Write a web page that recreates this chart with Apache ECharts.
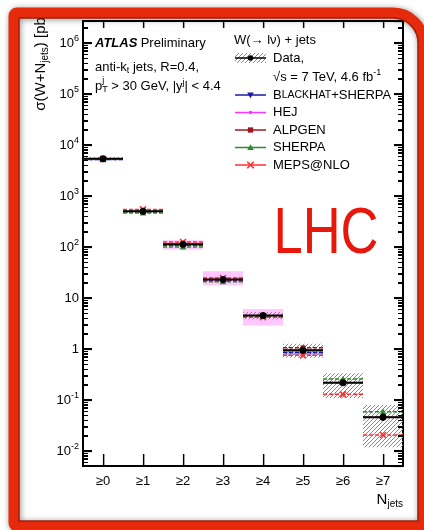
<!DOCTYPE html>
<html><head><meta charset="utf-8">
<script src="https://cdn.jsdelivr.net/npm/echarts@6.0.0/dist/echarts.min.js"></script>
<style>html,body{margin:0;padding:0;background:#fff}#c{width:424px;height:530px}</style>
</head><body><div id="c"></div>
<script>
// ---------------- data ----------------
const categories = ['≥0','≥1','≥2','≥3','≥4','≥5','≥6','≥7'];
const dataValues   = [5400, 505, 113, 23, 4.52, 0.94, 0.218, 0.046];
const dataSystLow  = [5000, 465, 104, 20.5, 3.85, 0.67, 0.108, 0.0118];
const dataSystHigh = [5800, 545, 123, 25.6, 5.3, 1.27, 0.334, 0.080];
const dataStatLow  = [5380, 502, 112, 22.7, 4.45, 0.91, 0.205, 0.039];
const dataStatHigh = [5420, 508, 114, 23.3, 4.60, 0.97, 0.232, 0.054];
const blackhatValues = [5200, 498, 110, 22.6, 4.4, 0.85, null, null];
const blackhatLow    = [5050, null, null, null, null, 0.76, null, null];
const blackhatHigh   = [5350, null, null, null, null, 0.94, null, null];
const hejValues = [null, null, 112, 24.5, 4.2, null, null, null];
const hejLow    = [null, null, 89, 17.7, 2.9, null, null, null];
const hejHigh   = [null, null, 135, 33.4, 6.1, null, null, null];
const alpgenValues = [5300, 495, 110, 22.8, 4.5, 1.06, 0.22, 0.046];
const sherpaValues = [5400, 464, 100, 20.8, 4.4, 0.95, 0.258, 0.059];
const mepsValues   = [5300, 546, 125, 24.7, 4.2, 0.75, 0.129, 0.0206];
const yMin = 0.00508, yMax = 2.7e6;

const FONT = '"Liberation Sans", Arial, Helvetica, sans-serif';
const COL = {bh:'#1a1aa8', hej:'#ff33ff', alp:'#a3141c', sh:'#2a8c2a', meps:'#ff3030'};

// hatch pattern
const hatch = document.createElement('canvas');
hatch.width = 4; hatch.height = 4;
(function(){const g = hatch.getContext('2d'); g.strokeStyle = '#8a8a8a'; g.lineWidth = 1;
 g.beginPath(); g.moveTo(0,4); g.lineTo(4,0); g.moveTo(-1,1); g.lineTo(1,-1); g.moveTo(3,5); g.lineTo(5,3); g.stroke();})();
const hatchFill = {image: hatch, repeat: 'repeat'};

// log-axis tick values (axis decoration): decades major, 2..9 minor
const logTickValues = [];
for (let e = -3; e <= 6; e++) for (let m = 1; m <= 9; m++) {
  const v = m * Math.pow(10, e); if (v >= yMin && v <= yMax) logTickValues.push([v, m === 1]);
}

function marker(sym, x, y, color, r) {
  switch (sym) {
    case 'circle': return {type:'circle', shape:{cx:x, cy:y, r:r}, style:{fill:color}};
    case 'dot': return {type:'circle', shape:{cx:x, cy:y, r:r*0.55}, style:{fill:color}};
    case 'triangle': return {type:'polygon', shape:{points:[[x,y-r],[x+r,y+r*0.75],[x-r,y+r*0.75]]}, style:{fill:color}};
    case 'invtriangle': return {type:'polygon', shape:{points:[[x,y+r],[x+r,y-r*0.75],[x-r,y-r*0.75]]}, style:{fill:color}};
    case 'square': return {type:'rect', shape:{x:x-r*0.8, y:y-r*0.8, width:r*1.6, height:r*1.6}, style:{fill:color}};
    case 'cross': return {type:'group', children:[
      {type:'line', shape:{x1:x-r, y1:y-r, x2:x+r, y2:y+r}, style:{stroke:color, lineWidth:1.6}},
      {type:'line', shape:{x1:x-r, y1:y+r, x2:x+r, y2:y-r}, style:{stroke:color, lineWidth:1.6}}]};
  }
}

function bandSeries(name, lows, highs, fill) {
  return {
    type:'custom', name, silent:true,
    data: lows.map((l,i) => l == null ? null : [i, l, highs[i]]).filter(Boolean),
    renderItem(params, api) {
      const i = api.value(0);
      const lo = api.coord([i, api.value(1)]);
      const hi = api.coord([i, api.value(2)]);
      const w = api.size([1, 0])[0];
      return {type:'rect', shape:{x:lo[0]-w/2, y:hi[1], width:w, height:lo[1]-hi[1]}, style:{fill}};
    }
  };
}

function theorySeries(name, values, color, sym, r) {
  return {
    type:'custom', name, silent:true,
    data: values.map((v,i) => v == null ? null : [i, v]).filter(Boolean),
    renderItem(params, api) {
      const i = api.value(0);
      const c = api.coord([i, api.value(1)]);
      const w = api.size([1, 0])[0];
      return {type:'group', children:[
        {type:'line', shape:{x1:c[0]-w/2, y1:c[1], x2:c[0]+w/2, y2:c[1]}, style:{stroke:color, lineWidth:1.5, lineDash:[4,2]}},
        marker(sym, c[0], c[1], color, r)
      ]};
    }
  };
}

function tickRects(api) {
  const out = [];
  const w = api.size([1, 0])[0];
  const x0 = api.coord([0, 1])[0];
  const left = x0 - w/2, right = left + w * categories.length;
  logTickValues.forEach(t => {
    const y = Math.floor(api.coord([0, t[0]])[1]);
    const len = t[1] ? 9 : 5;
    out.push({type:'rect', shape:{x:left, y:y, width:len, height:1}, style:{fill:'#000'}});
    out.push({type:'rect', shape:{x:right-len, y:y, width:len, height:1}, style:{fill:'#000'}});
  });
  const yb = api.coord([0, yMin])[1], yt = api.coord([0, yMax])[1];
  categories.forEach((c, i) => {
    const x = Math.floor(api.coord([i, 1])[0]);
    out.push({type:'rect', shape:{x:x, y:yb-12, width:1.3, height:12}, style:{fill:'#000'}});
    out.push({type:'rect', shape:{x:x, y:yt, width:1.3, height:7}, style:{fill:'#000'}});
  });
  return out;
}

const dataSeries = {
  type:'custom', name:'Data', silent:true,
  data: dataValues.map((v,i) => [i, v, dataStatLow[i], dataStatHigh[i]]),
  renderItem(params, api) {
    const i = api.value(0);
    const c = api.coord([i, api.value(1)]);
    const lo = api.coord([i, api.value(2)]);
    const hi = api.coord([i, api.value(3)]);
    const w = api.size([1, 0])[0];
    const children = [
      {type:'line', shape:{x1:c[0]-w/2, y1:c[1], x2:c[0]+w/2, y2:c[1]}, style:{stroke:'#000', lineWidth:2}},
      {type:'line', shape:{x1:c[0], y1:lo[1], x2:c[0], y2:hi[1]}, style:{stroke:'#000', lineWidth:2}},
      {type:'circle', shape:{cx:c[0], cy:c[1], r:3.5}, style:{fill:'#000'}}
    ];
    if (params.dataIndex === 0) tickRects(api).forEach(t => children.push(t));
    return {type:'group', children};
  }
};

// ---------------- chart ----------------
const axisLineStyle = {color:'#000', width:2};
const yLabel = {
  show:true, margin:4, color:'#000', fontSize:13, fontFamily:FONT, showMinLabel:false, showMaxLabel:false,
  formatter: v => { const e = Math.round(Math.log10(v)); if (e === 0) return '1'; if (e === 1) return '10'; return '{b|10}{s|' + e + '}'; },
  rich:{b:{fontSize:13, fontFamily:FONT, color:'#000', lineHeight:18}, s:{fontSize:9, fontFamily:FONT, color:'#000', verticalAlign:'top', lineHeight:10}}
};

// ---------------- legend / annotations ----------------
const legendEntries = [
  {text:'{c|B}{s|LACK}{c|H}{s|AT}{c|+SHERPA}', color:COL.bh, sym:'invtriangle'},
  {text:'HEJ', color:COL.hej, sym:'dot'},
  {text:'ALPGEN', color:COL.alp, sym:'square'},
  {text:'SHERPA', color:COL.sh, sym:'triangle'},
  {text:'MEPS@NLO', color:COL.meps, sym:'cross'}
];
const lx0 = 235, lx1 = 266, ltx = 273;
const legendChildren = [
  {type:'text', x:234, y:40, style:{text:'W(→ lν) + jets', fill:'#000', fontSize:13, fontFamily:FONT, verticalAlign:'middle'}},
  {type:'rect', shape:{x:lx0, y:53, width:lx1-lx0, height:10}, style:{fill:hatchFill}},
  {type:'line', shape:{x1:lx0, y1:58, x2:lx1, y2:58}, style:{stroke:'#000', lineWidth:1.5}},
  {type:'circle', shape:{cx:(lx0+lx1)/2, cy:58, r:2.8}, style:{fill:'#000'}},
  {type:'text', x:ltx, y:58, style:{text:'Data,', fill:'#000', fontSize:13, fontFamily:FONT, verticalAlign:'middle'}},
  {type:'text', x:ltx, y:77, style:{text:'{n|√s = 7 TeV, 4.6 fb}{u|-1}', fontFamily:FONT, verticalAlign:'middle',
     rich:{n:{fontSize:13, fontFamily:FONT, color:'#000', lineHeight:17}, u:{fontSize:9, fontFamily:FONT, color:'#000', verticalAlign:'top', lineHeight:10}}}}
];
legendEntries.forEach((e, k) => {
  const y = 95 + k * 17.5;
  legendChildren.push({type:'line', shape:{x1:lx0, y1:y, x2:lx1, y2:y}, style:{stroke:e.color, lineWidth:1.5}});
  legendChildren.push(marker(e.sym, (lx0+lx1)/2, y, e.color, 3.3));
  legendChildren.push({type:'text', x:ltx, y:y, style:{text:e.text, fill:'#000', fontSize:13, fontFamily:FONT, verticalAlign:'middle',
     rich:{c:{fontSize:13, fontFamily:FONT, color:'#000'}, s:{fontSize:10.5, fontFamily:FONT, color:'#000'}}}});
});

const pw = (function(){const g=document.createElement('canvas').getContext('2d'); g.font='13px '+FONT; return g.measureText('p').width;})();

const annot = [
  {type:'text', x:95, y:43, style:{text:'{a|ATLAS} {p|Preliminary}', verticalAlign:'middle',
     rich:{a:{fontSize:13, fontFamily:FONT, fontWeight:'bold', fontStyle:'italic', color:'#000'}, p:{fontSize:13, fontFamily:FONT, color:'#000'}}}},
  {type:'text', x:95, y:67, style:{text:'{n|anti-k}{d|t}{n| jets, R=0.4,}', verticalAlign:'middle',
     rich:{n:{fontSize:13, fontFamily:FONT, color:'#000', lineHeight:16}, d:{fontSize:9, fontFamily:FONT, color:'#000', verticalAlign:'bottom', lineHeight:10}}}},
  {type:'text', x:95, y:86, style:{text:'{n|p}{d|T}{n| > 30 GeV, |y}{u|j}{n|| < 4.4}', verticalAlign:'middle',
     rich:{n:{fontSize:13, fontFamily:FONT, color:'#000', lineHeight:16}, d:{fontSize:9, fontFamily:FONT, color:'#000', verticalAlign:'bottom', lineHeight:10},
           u:{fontSize:9, fontFamily:FONT, color:'#000', verticalAlign:'top', lineHeight:10}}}},
  {type:'text', x:95 + pw, y:81, style:{text:'j', fill:'#000', fontSize:9, fontFamily:FONT, verticalAlign:'middle'}},
  {type:'text', x:326, y:235, scaleX:0.82, style:{text:'LHC', fill:'#e8170c', fontSize:64, fontFamily:FONT, align:'center', verticalAlign:'middle'}},
  {type:'text', x:41, y:13, rotation:Math.PI/2, style:{text:'{n|σ(W+N}{d|jets}{n|) [pb]}', align:'right', verticalAlign:'middle',
     rich:{n:{fontSize:15, fontFamily:FONT, color:'#000', lineHeight:18}, d:{fontSize:10, fontFamily:FONT, color:'#000', verticalAlign:'bottom', lineHeight:11}}}},
  {type:'text', x:403, y:500, style:{text:'{n|N}{d|jets}', align:'right', verticalAlign:'middle',
     rich:{n:{fontSize:15, fontFamily:FONT, color:'#000', lineHeight:18}, d:{fontSize:10, fontFamily:FONT, color:'#000', verticalAlign:'bottom', lineHeight:11}}}},
  // frame
  {type:'rect', z:100, silent:true, shape:{x:14, y:13, width:409, height:513, r:[3,30,3,3]},
     style:{fill:null, stroke:'#e62a0c', lineWidth:11, shadowBlur:6, shadowColor:'rgba(0,0,0,0.45)', shadowOffsetX:1, shadowOffsetY:1}},
  {type:'rect', z:101, silent:true, shape:{x:19, y:18, width:399, height:503, r:[0,25,0,0]},
     style:{fill:null, stroke:'rgba(110,15,0,0.55)', lineWidth:1.5}}
];

const tickStyle = {color:'#000', width:1.2};
const chart = echarts.init(document.getElementById('c'), null, {renderer:'canvas'});
chart.setOption({
  animation:false,
  backgroundColor:'#fff',
  grid:{left:83, right:21, top:21, bottom:64},
  xAxis:[
    {type:'category', data:categories, position:'bottom', boundaryGap:true,
     axisLine:{show:true, lineStyle:axisLineStyle},
     axisTick:{show:true, inside:true, alignWithLabel:true, interval:0, length:12, lineStyle:tickStyle},
     axisLabel:{interval:0, color:'#000', fontSize:13, fontFamily:FONT, margin:9}, splitLine:{show:false}},
    {type:'category', data:categories, position:'top', boundaryGap:true,
     axisLine:{show:true, lineStyle:axisLineStyle},
     axisTick:{show:true, inside:true, alignWithLabel:true, interval:0, length:7, lineStyle:tickStyle},
     axisLabel:{show:false}, splitLine:{show:false}}
  ],
  yAxis:[
    {type:'log', logBase:10, min:yMin, max:yMax, position:'left',
     axisLine:{show:true, lineStyle:axisLineStyle}, axisTick:{show:true, inside:true, length:9, lineStyle:tickStyle},
     axisLabel:yLabel, splitLine:{show:false}},
    {type:'log', logBase:10, min:yMin, max:yMax, position:'right',
     axisLine:{show:true, lineStyle:axisLineStyle}, axisTick:{show:true, inside:true, length:9, lineStyle:tickStyle},
     axisLabel:{show:false}, splitLine:{show:false}}
  ],
  series:[
    bandSeries('HEJ band', hejLow, hejHigh, '#ffc6ff'),
    bandSeries('BlackHat band', blackhatLow, blackhatHigh, '#b9b9f2'),
    bandSeries('Data syst', dataSystLow, dataSystHigh, hatchFill),
    theorySeries('BlackHat+Sherpa', blackhatValues, COL.bh, 'invtriangle', 3.3),
    theorySeries('HEJ', hejValues, COL.hej, 'dot', 3.3),
    theorySeries('ALPGEN', alpgenValues, COL.alp, 'square', 3.0),
    theorySeries('SHERPA', sherpaValues, COL.sh, 'triangle', 3.3),
    theorySeries('MEPS@NLO', mepsValues, COL.meps, 'cross', 3.0),
    dataSeries
  ]
});

// second route for the minor ticks: overlay lines placed through the axes' own scales
const tickGraphics = [];
try {
  const yPix = v => chart.convertToPixel({yAxisIndex:0}, v);
  const xPix = i => chart.convertToPixel({xAxisIndex:0}, i);
  const band = xPix(1) - xPix(0);
  const gLeft = xPix(0) - band/2, gRight = xPix(categories.length - 1) + band/2;
  logTickValues.forEach(t => {
    const y = Math.round(yPix(t[0])) + 0.5, len = t[1] ? 9 : 5;
    if (!isFinite(y)) return;
    tickGraphics.push({type:'line', z:50, silent:true, shape:{x1:gLeft, y1:y, x2:gLeft+len, y2:y}, style:{stroke:'#000', lineWidth:1}});
    tickGraphics.push({type:'line', z:50, silent:true, shape:{x1:gRight-len, y1:y, x2:gRight, y2:y}, style:{stroke:'#000', lineWidth:1}});
  });
} catch (err) {}

chart.setOption({graphic: tickGraphics.concat([{type:'group', children:legendChildren}], annot)});
</script></body></html>
